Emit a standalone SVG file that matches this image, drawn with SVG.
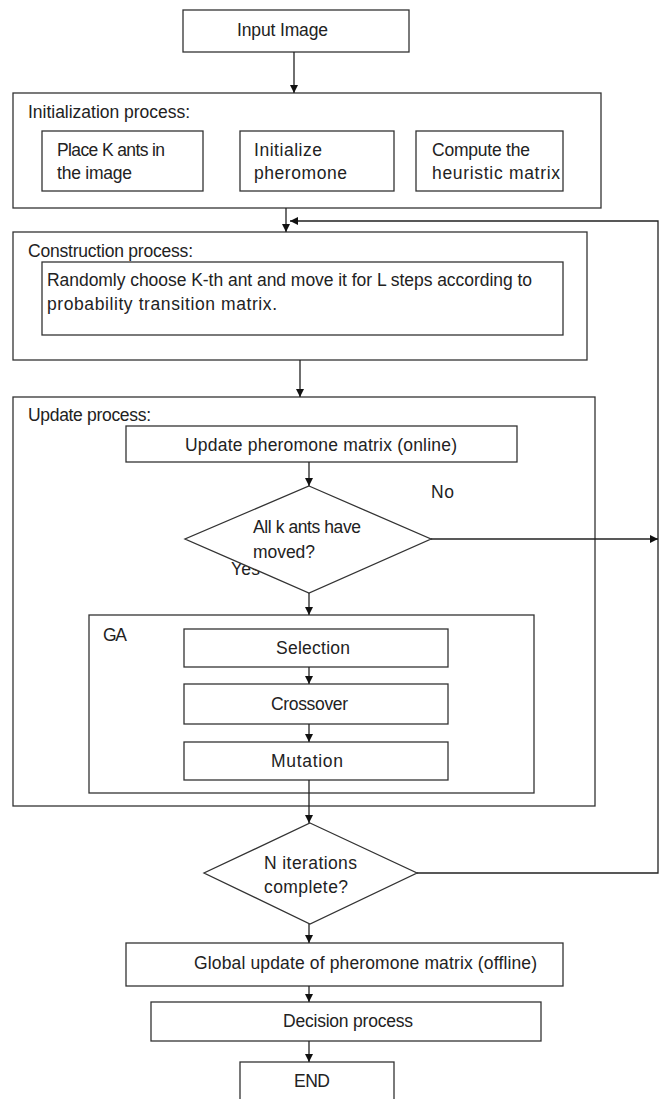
<svg xmlns="http://www.w3.org/2000/svg" width="664" height="1099" viewBox="0 0 664 1099">
<style>
.box{fill:#fff;stroke:#333;stroke-width:1.3}
.t{font-family:"Liberation Sans",Arial,sans-serif;font-size:17.5px;fill:#222}
.c{fill:none;stroke:#222;stroke-width:1.3}
</style>
<defs>
<marker id="ah" markerUnits="userSpaceOnUse" markerWidth="9" markerHeight="9" refX="8" refY="4" orient="auto">
<path d="M0,0 L8,4 L0,8 z" fill="#111"/>
</marker>
</defs>
<rect width="664" height="1099" fill="#fff"/>

<g id="input">
<rect class="box" x="183" y="10" width="226" height="42"/>
<text class="t" x="237" y="36" textLength="91">Input Image</text>
</g>

<g id="init">
<rect class="box" x="13" y="93" width="588" height="115"/>
<text class="t" x="28" y="118" textLength="162">Initialization process:</text>
</g>
<g id="place">
<rect class="box" x="42" y="131" width="161" height="60"/>
<text class="t" x="57" y="156" textLength="108">Place K ants in</text>
<text class="t" x="57" y="179" textLength="75">the image</text>
</g>
<g id="initpher">
<rect class="box" x="240" y="131" width="154" height="60"/>
<text class="t" x="254" y="156" textLength="68">Initialize</text>
<text class="t" x="254" y="179" textLength="93">pheromone</text>
</g>
<g id="heur">
<rect class="box" x="416" y="131" width="147" height="60"/>
<text class="t" x="432" y="156" textLength="98">Compute the</text>
<text class="t" x="432" y="179" textLength="128">heuristic matrix</text>
</g>

<g id="construction">
<rect class="box" x="13" y="232" width="574" height="128"/>
<text class="t" x="28" y="257" textLength="165">Construction process:</text>
</g>
<g id="randomly">
<rect class="box" x="42" y="262" width="521" height="73"/>
<text class="t" x="47" y="286" textLength="485">Randomly choose K-th ant and move it for L steps according to</text>
<text class="t" x="47" y="310" textLength="230">probability transition matrix.</text>
</g>

<g id="update">
<rect class="box" x="13" y="397" width="582" height="409"/>
<text class="t" x="28" y="421" textLength="123">Update process:</text>
</g>
<g id="online">
<rect class="box" x="126" y="426" width="391" height="36"/>
<text class="t" x="185" y="451" textLength="272">Update pheromone matrix (online)</text>
</g>
<g id="yeslabel">
<text class="t" x="231" y="575" textLength="29">Yes</text>
</g>
<g id="moved">
<polygon class="box" points="309,486 431,539 309,593 185,539"/>
<text class="t" x="253" y="533" textLength="108">All k ants have</text>
<text class="t" x="253" y="558" textLength="62">moved?</text>
</g>
<g id="nolabel">
<text class="t" x="431" y="498" textLength="23">No</text>
</g>

<g id="ga">
<rect class="box" x="89" y="615" width="445" height="178"/>
<text class="t" x="103" y="641" textLength="24">GA</text>
</g>
<g id="selection">
<rect class="box" x="184" y="629" width="264" height="38"/>
<text class="t" x="276" y="654" textLength="74">Selection</text>
</g>
<g id="crossover">
<rect class="box" x="184" y="684" width="264" height="40"/>
<text class="t" x="271" y="710" textLength="77">Crossover</text>
</g>
<g id="mutation">
<rect class="box" x="184" y="742" width="264" height="38"/>
<text class="t" x="271" y="767" textLength="72">Mutation</text>
</g>

<g id="niter">
<polygon class="box" points="310,823 417,873 310,924 204,873"/>
<text class="t" x="264" y="869" textLength="93">N iterations</text>
<text class="t" x="264" y="893" textLength="84">complete?</text>
</g>

<g id="global">
<rect class="box" x="126" y="943" width="437" height="43"/>
<text class="t" x="194" y="969" textLength="343">Global update of pheromone matrix (offline)</text>
</g>
<g id="decision">
<rect class="box" x="151" y="1002" width="390" height="39"/>
<text class="t" x="283" y="1027" textLength="130">Decision process</text>
</g>
<g id="end">
<rect class="box" x="240" y="1062" width="154" height="50"/>
<text class="t" x="294" y="1087" textLength="36">END</text>
</g>

<g id="connectors">
<path class="c" d="M294,52 V93" marker-end="url(#ah)"/>
<path class="c" d="M286,208 V232" marker-end="url(#ah)"/>
<path class="c" d="M417,873 H658 V221 H290" marker-end="url(#ah)"/>
<path class="c" d="M431,539 H658" marker-end="url(#ah)"/>
<path class="c" d="M300,360 V397" marker-end="url(#ah)"/>
<path class="c" d="M309,462 V486" marker-end="url(#ah)"/>
<path class="c" d="M309,593 V615" marker-end="url(#ah)"/>
<path class="c" d="M309,667 V684" marker-end="url(#ah)"/>
<path class="c" d="M309,724 V742" marker-end="url(#ah)"/>
<path class="c" d="M309,780 V823" marker-end="url(#ah)"/>
<path class="c" d="M309,924 V943" marker-end="url(#ah)"/>
<path class="c" d="M309,986 V1002" marker-end="url(#ah)"/>
<path class="c" d="M309,1041 V1062" marker-end="url(#ah)"/>
</g>
</svg>
